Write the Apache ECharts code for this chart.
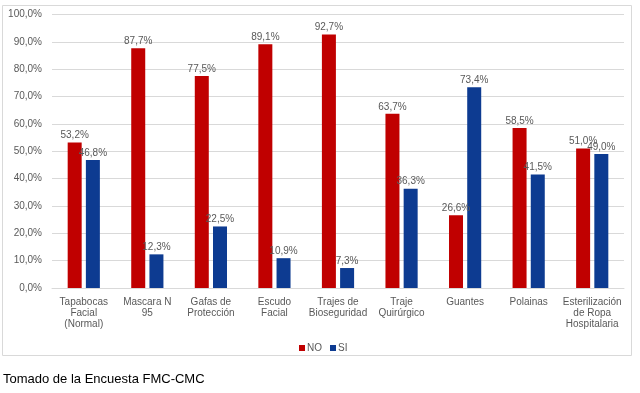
<!DOCTYPE html>
<html><head><meta charset="utf-8">
<script src="https://cdn.jsdelivr.net/npm/echarts@6/dist/echarts.min.js"></script>
<style>html,body{margin:0;padding:0;background:#fff}#c{width:640px;height:393px}</style>
</head><body><div id="c"></div>
<script>
const categories = ["Tapabocas\nFacial\n(Normal)", "Mascara N\n95", "Gafas de\nProtección", "Escudo\nFacial", "Trajes de\nBioseguridad", "Traje\nQuirúrgico", "Guantes", "Polainas", "Esterilización\nde Ropa\nHospitalaria"];
const noValues = [53.2, 87.7, 77.5, 89.1, 92.7, 63.7, 26.6, 58.5, 51.0];
const siValues = [46.8, 12.3, 22.5, 10.9, 7.3, 36.3, 73.4, 41.5, 49.0];
const seriesNames = ["NO", "SI"];
const footer = "Tomado de la Encuesta FMC-CMC";

const fmt = v => v.toFixed(1).replace('.', ',') + '%';
const font = 'Liberation Sans, Arial, sans-serif';
const txt = '#595959';
const chart = echarts.init(document.getElementById('c'), null, {renderer: 'canvas'});
const lbl = {show: true, position: 'top', distance: 2, color: txt, fontSize: 10, fontFamily: font, formatter: p => fmt(p.value)};
chart.setOption({
  animation: false,
  textStyle: {fontFamily: font},
  grid: {left: 52, right: 16, top: 14.5, bottom: 105, containLabel: false},
  graphic: [
    {type: 'rect', shape: {x: 2.5, y: 5.5, width: 629, height: 350}, style: {fill: 'none', stroke: '#d9d9d9', lineWidth: 1}, z: -1},
    {type: 'text', left: 3, top: 373, style: {text: footer, font: '13px Liberation Sans, Arial, sans-serif', fill: '#000'}}
  ],
  legend: {
    data: seriesNames, left: 294, top: 338, icon: 'rect', itemWidth: 6, itemHeight: 6, itemGap: 8,
    textStyle: {fontSize: 10, color: txt, fontFamily: font, padding: [0, 0, 0, -3]}
  },
  xAxis: {
    type: 'category', data: categories,
    axisLine: {lineStyle: {color: '#d9d9d9'}}, axisTick: {show: false},
    axisLabel: {interval: 0, fontSize: 10, color: txt, margin: 9, lineHeight: 11, fontFamily: font}
  },
  yAxis: {
    type: 'value', min: 0, max: 100, interval: 10,
    axisLabel: {formatter: v => fmt(v), fontSize: 10, color: txt, margin: 10, fontFamily: font},
    splitLine: {lineStyle: {color: '#d9d9d9'}}, axisLine: {show: false}, axisTick: {show: false}
  },
  series: [
    {name: seriesNames[0], type: 'bar', data: noValues, itemStyle: {color: '#C00000'}, barWidth: 14, barGap: '30%', label: lbl},
    {name: seriesNames[1], type: 'bar', data: siValues, itemStyle: {color: '#0D3B91'}, barWidth: 14, label: lbl}
  ]
});
</script></body></html>
